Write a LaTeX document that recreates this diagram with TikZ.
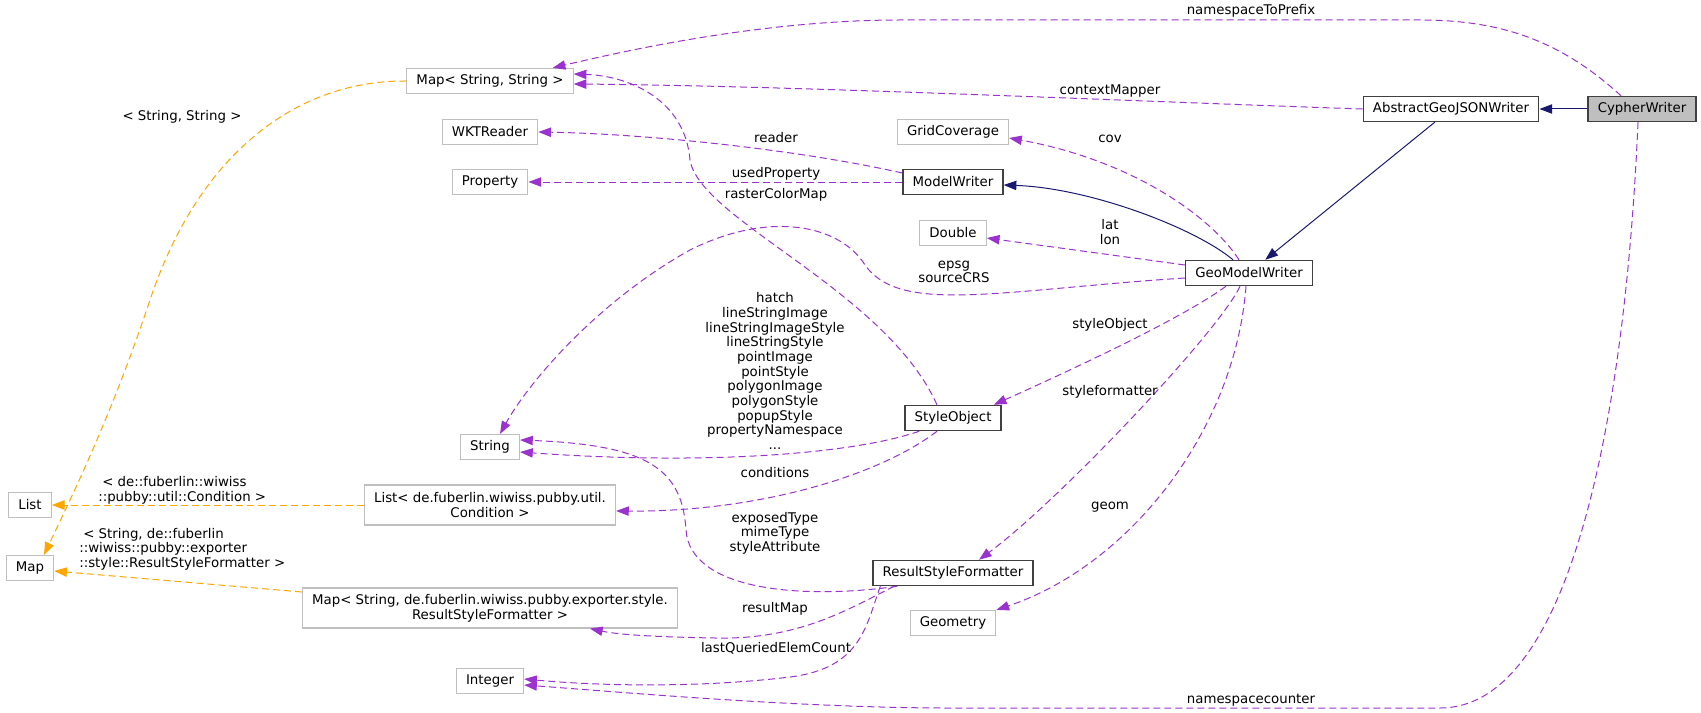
\documentclass[tikz,border=0pt]{standalone}
\usepackage{fontspec}
\setmainfont{DejaVu Sans}
\usepackage{xcolor}
\usepackage{tikz}
\usetikzlibrary{arrows.meta, calc}

\definecolor{usecol}{HTML}{9A32CD}
\definecolor{tplcol}{HTML}{FFA500}
\definecolor{inhcol}{HTML}{191970}
\definecolor{docline}{HTML}{404040}
\definecolor{undocline}{HTML}{BFBFBF}

\begin{document}
\begin{tikzpicture}[
        x=0.75pt, y=-0.75pt,
        font=\fontsize{10}{11}\selectfont,
        cls/.style={draw=docline, line width=1.1pt, fill=white, minimum height=18.75pt, inner xsep=7.2pt, inner ysep=2pt, align=center},
        ext/.style={cls, draw=undocline, line width=0.9pt},
        twoline/.style={minimum height=30pt},
        lbl/.style={inner sep=0pt, align=center},
        inherit/.style={-{Triangle[length=9.5pt, width=7pt]}, draw=inhcol, line width=0.75pt},
        uses/.style={-{Triangle[length=9.5pt, width=7pt]}, draw=usecol, line width=0.75pt, dash pattern=on 5.25pt off 3pt},
        tpl/.style={-{Triangle[length=9.5pt, width=7pt]}, draw=tplcol, line width=0.75pt, dash pattern=on 5.25pt off 3pt}
    ]
    \useasboundingbox (0,0) rectangle (1701,713);

    % writer classes
    \node[cls, fill=undocline] (cw) at (1642,109) {CypherWriter};
    \node[cls] (agj) at (1451,109) {AbstractGeoJSONWriter};
    \node[cls] (gmw) at (1249,273) {GeoModelWriter};
    \node[cls] (mw) at (953,182) {ModelWriter};
    \node[cls] (so) at (953,418) {StyleObject};
    \node[cls] (rsf) at (953,573) {ResultStyleFormatter};

    % external types
    \node[ext] (gc) at (953,132) {GridCoverage};
    \node[ext] (dbl) at (953,233) {Double};
    \node[ext] (geo) at (953,623) {Geometry};
    \node[ext] (mapss) at (490,81) {Map< String, String >};
    \node[ext] (wkt) at (490,132) {WKTReader};
    \node[ext] (prop) at (490,182) {Property};
    \node[ext] (str) at (490,447) {String};
    \node[ext, twoline] (lcond) at (490,505) {List< de.fuberlin.wiwiss.pubby.util.\\Condition >};
    \node[ext, twoline] (mrsf) at (490,608) {Map< String, de.fuberlin.wiwiss.pubby.exporter.style.\\ResultStyleFormatter >};
    \node[ext] (intg) at (490,681) {Integer};
    \node[ext] (listg) at (30,505) {List};
    \node[ext] (mapg) at (30,568) {Map};

    % inheritance
    \draw[inherit] (cw.west) -- (agj.east);
    \draw[inherit] (agj) -- (gmw);
    \draw[inherit] ($(gmw.north)+(-16,0)$) .. controls (1195,228) and (1090,188) .. ($(mw.east)+(0,3)$);

    % members
    \draw[uses] ($(cw.north)+(-21,0)$) .. controls (1560,40) and (1500,20) .. (1420,20) -- (900,20) .. controls (760,20) and (620,52) .. ($(mapss.north east)+(-21,0)$);
    \node[lbl] (lNsPrefix) at (1251,11) {namespaceToPrefix};

    \draw[uses] (agj.west) .. controls (1100,100) and (800,86) .. ($(mapss.east)+(0,3)$);
    \node[lbl] (lCtx) at (1110,91) {contextMapper};

    \draw[uses] ($(so.north)+(-16,0)$) .. controls (885,290) and (700,220) .. (690,160) .. controls (685,100) and (630,76) .. ($(mapss.east)+(0,-7)$);
    \node[lbl] (lRaster) at (776,195) {rasterColorMap};

    \draw[uses] ($(mw.west)+(0,-9)$) .. controls (800,150) and (650,134) .. (wkt.east);
    \node[lbl] (lReader) at (776,138) {reader};

    \draw[uses] (mw.west) -- (prop.east);
    \node[lbl] (lUsed) at (776,174) {usedProperty};

    \draw[uses] ($(gmw.north)+(-10,0)$) .. controls (1210,215) and (1130,160) .. ($(gc.east)+(0,6)$);
    \node[lbl] (lCov) at (1110,139) {cov};

    \draw[uses] ($(gmw.west)+(0,-8)$) -- ($(dbl.east)+(0,5)$);
    \node[lbl] (lLatLon) at (1110,232) {lat\\lon};

    \draw[uses] ($(gmw.west)+(0,5)$) .. controls (1000,290) and (900,315) .. (865,265) .. controls (840,225) and (770,210) .. (690,250) .. controls (600,300) and (530,380) .. ($(str.north)+(10,0)$);
    \node[lbl] (lEpsg) at (954,272) {epsg\\sourceCRS};

    \draw[uses] ($(gmw.south)+(-23,0)$) .. controls (1180,320) and (1060,375) .. ($(so.north east)+(-8,0)$);
    \node[lbl] (lStyleObj) at (1110,325) {styleObject};

    \draw[uses] ($(gmw.south)+(-9,0)$) .. controls (1220,330) and (1060,500) .. ($(rsf.north)+(26,0)$);
    \node[lbl] (lStyleFmt) at (1110,392) {styleformatter};

    \draw[uses] ($(gmw.south)+(-3,0)$) .. controls (1235,430) and (1130,565) .. (geo.north east);
    \node[lbl] (lGeom) at (1110,507) {geom};

    \draw[uses] ($(so.south west)+(15,0)$) .. controls (850,455) and (700,465) .. ($(str.east)+(0,5)$);
    \node[lbl] (lHatch) at (775,371) {hatch\\lineStringImage\\lineStringImageStyle\\lineStringStyle\\pointImage\\pointStyle\\polygonImage\\polygonStyle\\popupStyle\\propertyNamespace\\...};

    \draw[uses] ($(so.south)+(-16,0)$) .. controls (880,475) and (760,512) .. ($(lcond.east)+(0,6)$);
    \node[lbl] (lCond) at (775,473) {conditions};

    \draw[uses] ($(rsf.south west)+(25,0)$) .. controls (800,600) and (690,590) .. (686,530) .. controls (682,470) and (650,445) .. ($(str.east)+(0,-7)$);
    \node[lbl] (lExposed) at (775,533) {exposedType\\mimeType\\styleAttribute};

    \draw[uses] ($(rsf.south west)+(22,0)$) .. controls (850,608) and (800,640) .. (715,638) .. controls (660,637) and (620,635) .. ($(mrsf.south)+(100,0)$);
    \node[lbl] (lResult) at (775,609) {resultMap};

    \draw[uses] ($(rsf.south west)+(8,0)$) .. controls (866,625) and (862,668) .. (790,677) .. controls (700,688) and (600,686) .. ($(intg.east)+(0,-2)$);
    \node[lbl] (lLastQ) at (776,648) {lastQueriedElemCount};

    \draw[uses] ($(cw.south)+(-4,0)$) .. controls (1625,420) and (1570,708) .. (1440,708) -- (950,708) .. controls (800,708) and (620,692) .. ($(intg.east)+(0,4)$);
    \node[lbl] (lNsCounter) at (1251,700) {namespacecounter};

    % template instances
    \draw[tpl] (mapss.west) .. controls (300,80) and (200,150) .. (150,300) .. controls (110,420) and (70,500) .. ($(mapg.north)+(14,0)$);
    \node[lbl] (lStrStr) at (182,117) {< String, String >};

    \draw[tpl] (lcond.west) -- (listg.east);
    \node[lbl, align=left, anchor=west] (lCondTpl) at (98,490) {\hspace*{3pt}< de::fuberlin::wiwiss\\::pubby::util::Condition >};

    \draw[tpl] ($(mrsf.west)+(0,-16)$) -- ($(mapg.east)+(0,3)$);
    \node[lbl, align=left, anchor=west] (lRsfTpl) at (79,549) {\hspace*{3pt}< String, de::fuberlin\\::wiwiss::pubby::exporter\\::style::ResultStyleFormatter >};

\end{tikzpicture}
\end{document}
